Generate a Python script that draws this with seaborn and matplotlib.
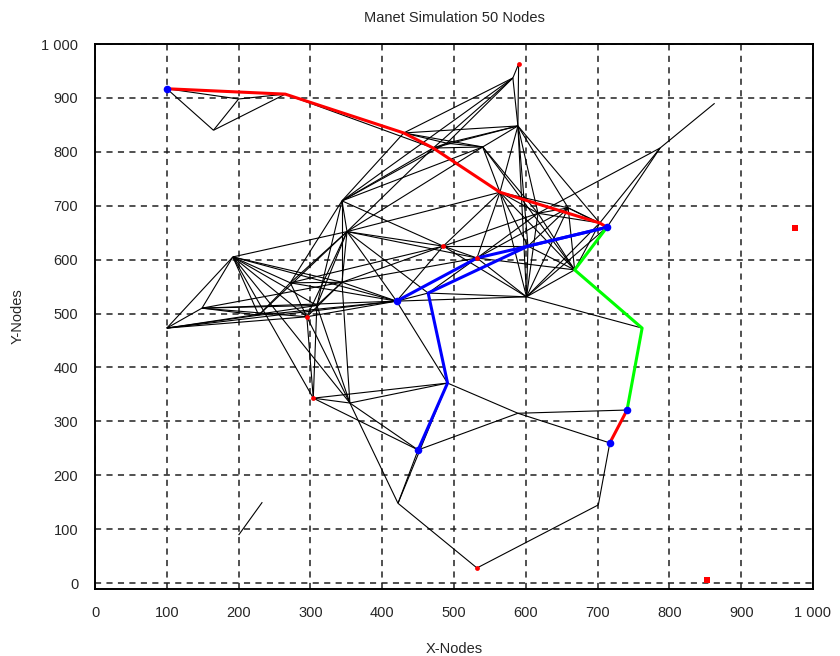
import numpy as np
import pandas as pd
import seaborn as sns
import matplotlib
matplotlib.use("Agg")
import matplotlib.pyplot as plt
from matplotlib.collections import LineCollection
from matplotlib.ticker import MultipleLocator

# ---- data -------------------------------------------------------------
node_x = [100, 165, 200, 265, 430, 471, 490, 540, 589, 582,
          590, 564, 344, 351, 192, 100, 149, 228, 272, 344,
          295, 309, 304, 355, 420, 464, 485, 532, 617, 659,
          703, 713, 668, 601, 762, 741, 717, 491, 450, 422,
          532, 701, 589, 787, 863, 200, 233, 975, 852, 603]
node_y = [917, 840, 898, 907, 835, 807, 816, 809, 848, 937,
          963, 725, 709, 652, 605, 473, 510, 497, 557, 558,
          494, 515, 343, 334, 523, 538, 625, 603, 686, 696,
          668, 660, 581, 531, 473, 321, 260, 371, 247, 148,
          28, 145, 315, 807, 890, 89, 150, 659, 6, 625]

edges = [(0, 1), (0, 2), (1, 2), (1, 3), (2, 3), (0, 3), (3, 4), (3, 5),
         (4, 5), (4, 6), (4, 7), (4, 8), (5, 6), (5, 7), (5, 8), (6, 7), (6, 8), (7, 8),
         (10, 9), (10, 8), (9, 4), (9, 5), (9, 6), (9, 12), (9, 8),
         (8, 11), (8, 28), (8, 29), (8, 30), (8, 33), (7, 11), (7, 28), (7, 32), (7, 12),
         (11, 30), (11, 29), (11, 28), (11, 32), (11, 33), (11, 13), (11, 26), (11, 27),
         (12, 4), (12, 5), (12, 6), (12, 13), (12, 18), (12, 19), (12, 21), (12, 26),
         (13, 14), (13, 18), (13, 19), (13, 21), (13, 26), (13, 27), (13, 24), (13, 25),
         (13, 17), (13, 5), (13, 7),
         (14, 15), (14, 16), (14, 17), (14, 18), (14, 19), (14, 20), (14, 21), (14, 22),
         (14, 24), (14, 23),
         (15, 16), (15, 20), (15, 17), (15, 21), (15, 24),
         (16, 19), (16, 24), (16, 20), (16, 21),
         (17, 24), (17, 18), (17, 16),
         (18, 19), (18, 24), (18, 26), (18, 20),
         (19, 24), (19, 26), (19, 20), (19, 27),
         (20, 22), (20, 13), (20, 24), (20, 23),
         (21, 22), (21, 23), (21, 19),
         (22, 23), (22, 38), (22, 37),
         (23, 19), (23, 38), (23, 37),
         (24, 25), (24, 26), (24, 33), (24, 37),
         (25, 33), (25, 27), (26, 27), (26, 33), (26, 28),
         (27, 33), (27, 28), (27, 29), (27, 32),
         (28, 29), (28, 30), (28, 33), (28, 32), (29, 30), (29, 32), (29, 33),
         (30, 32), (30, 33), (31, 33), (31, 29), (32, 33), (33, 34),
         (49, 11), (49, 33), (49, 29), (49, 32), (49, 8), (49, 26),
         (43, 44), (43, 31), (43, 30), (43, 28),
         (37, 38), (37, 42), (42, 36), (42, 35), (38, 39), (38, 42),
         (39, 37), (39, 23), (39, 40), (40, 41), (41, 36),
         (45, 46)]

red_path = [0, 3, 4, 5, 11, 30, 31]
blue_path_a = [31, 49, 27, 24]
blue_path_b = [31, 49, 25, 37, 38]
green_path = [31, 32, 34, 35]
red_path_2 = [35, 36]

blue_nodes = [0, 24, 38, 35, 36, 31]
red_dot_nodes = [10, 22, 20, 26, 40, 27]
red_square_nodes = [47, 48]

ticks = [0, 100, 200, 300, 400, 500, 600, 700, 800, 900, 1000]
tick_labels = ["0", "100", "200", "300", "400", "500", "600", "700", "800", "900", "1 000"]

# ---- style ------------------------------------------------------------
sns.set_style("white")
plt.rcParams["font.family"] = ["Liberation Sans", "DejaVu Sans"]

fig = plt.figure(figsize=(8.4, 6.56), dpi=100)
ax = fig.add_axes([95 / 840, 1 - 589 / 656, (813 - 95) / 840, (589 - 44) / 656])

nodes = pd.DataFrame({"x": node_x, "y": node_y})

segs = [[(node_x[a], node_y[a]), (node_x[b], node_y[b])] for a, b in edges]
ax.add_collection(LineCollection(segs, colors="black", linewidths=0.8, zorder=3))


def draw_path(path, color):
    df = pd.DataFrame({"x": [node_x[i] for i in path], "y": [node_y[i] for i in path]})
    sns.lineplot(data=df, x="x", y="y", sort=False, estimator=None, color=color,
                 linewidth=2.2, ax=ax, zorder=4)


draw_path(red_path, "#ff0000")
draw_path(blue_path_a, "#0000ff")
draw_path(blue_path_b, "#0000ff")
draw_path(green_path, "#00ff00")
draw_path(red_path_2, "#ff0000")

sns.scatterplot(data=nodes.iloc[red_dot_nodes], x="x", y="y", color="#ff0000",
                s=12, marker="o", linewidth=0, ax=ax, zorder=5)
sns.scatterplot(data=nodes.iloc[red_square_nodes], x="x", y="y", color="#ff0000",
                s=20, marker="s", linewidth=0, ax=ax, zorder=5)
sns.scatterplot(data=nodes.iloc[blue_nodes], x="x", y="y", color="#0000ff",
                s=30, marker="o", linewidth=0, ax=ax, zorder=6)

ax.set_xlim(0, 1000)
ax.set_ylim(-11, 1000)
ax.set_xticks(ticks)
ax.set_xticklabels(tick_labels)
ax.set_yticks(ticks)
ax.set_yticklabels(tick_labels)
ax.xaxis.set_minor_locator(MultipleLocator(50))
ax.yaxis.set_minor_locator(MultipleLocator(50))
ax.tick_params(axis="both", which="major", direction="out", length=6, width=1,
               labelsize=10.5, color="black", pad=6)
ax.tick_params(axis="both", which="minor", direction="out", length=3, width=1, color="black")
ax.grid(True, which="major", color="#202020", linestyle=(0, (4, 3.5)), linewidth=1.1)
ax.set_axisbelow(True)
for sp in ax.spines.values():
    sp.set_color("black")
    sp.set_linewidth(1.4)

ax.set_xlabel("X-Nodes", fontsize=10.5, labelpad=16)
ax.set_ylabel("Y-Nodes", fontsize=10.5, labelpad=12)
ax.set_title("Manet Simulation 50 Nodes", fontsize=10.5, pad=16)
if ax.get_legend():
    ax.get_legend().remove()

fig.savefig("out.png", dpi=100)
